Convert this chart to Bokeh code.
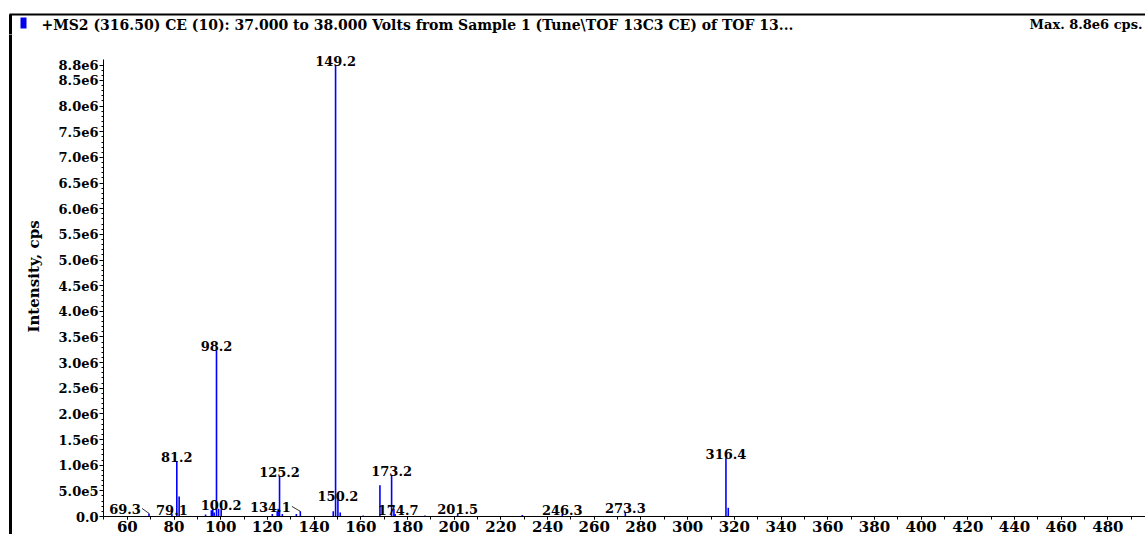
from bokeh.plotting import figure
from bokeh.layouts import column, row
from bokeh.models import FixedTicker, SingleIntervalTicker, ColumnDataSource, Range1d
from bokeh.core.properties import value
from bokeh.embed import file_html
from bokeh.resources import INLINE

# ---------------- data ----------------
title_text = "+MS2 (316.50) CE (10): 37.000 to 38.000 Volts from Sample 1 (Tune\\TOF 13C3 CE) of TOF 13..."
max_text = "Max. 8.8e6 cps."
y_axis_label = "Intensity, cps"

mz = [69.3, 79.1, 81.2, 82.2, 93.5, 96.0, 96.6, 97.2, 98.2, 99.1, 100.2,
      122.1, 124.2, 124.6, 125.2, 126.4, 132.4, 134.1, 148.2, 149.2, 150.2,
      151.2, 161.0, 168.2, 173.2, 174.2, 174.7, 187.5, 201.5, 229.2, 246.3,
      273.3, 316.4, 317.4]
intensity = [0.06e6, 0.05e6, 1.08e6, 0.39e6, 0.04e6, 0.12e6, 0.17e6, 0.08e6,
             3.24e6, 0.15e6, 0.14e6, 0.05e6, 0.10e6, 0.15e6, 0.78e6, 0.05e6,
             0.05e6, 0.10e6, 0.10e6, 8.80e6, 0.33e6, 0.08e6, 0.02e6, 0.61e6,
             0.81e6, 0.15e6, 0.05e6, 0.02e6, 0.06e6, 0.03e6, 0.05e6, 0.09e6,
             1.15e6, 0.17e6]

label_mz = [69.3, 79.1, 81.2, 98.2, 100.2, 125.2, 134.1, 149.2, 150.2,
            173.2, 174.7, 201.5, 246.3, 273.3, 316.4]
label_text = ["69.3", "79.1", "81.2", "98.2", "100.2", "125.2", "134.1", "149.2",
              "150.2", "173.2", "174.7", "201.5", "246.3", "273.3", "316.4"]
label_int = [0.06e6, 0.05e6, 1.08e6, 3.24e6, 0.14e6, 0.78e6, 0.10e6, 8.80e6,
             0.33e6, 0.81e6, 0.05e6, 0.06e6, 0.05e6, 0.09e6, 1.15e6]

y_ticks = [0, 0.5e6, 1.0e6, 1.5e6, 2.0e6, 2.5e6, 3.0e6, 3.5e6, 4.0e6, 4.5e6,
           5.0e6, 5.5e6, 6.0e6, 6.5e6, 7.0e6, 7.5e6, 8.0e6, 8.5e6, 8.8e6]
y_tick_labels = ["0.0", "5.0e5", "1.0e6", "1.5e6", "2.0e6", "2.5e6", "3.0e6",
                 "3.5e6", "4.0e6", "4.5e6", "5.0e6", "5.5e6", "6.0e6", "6.5e6",
                 "7.0e6", "7.5e6", "8.0e6", "8.5e6", "8.8e6"]

# ---------------- styles / layout ----------------
label_dx = [-24, 0, 0, 0, 0, 0, -30, 0, 0, 0, 3, 0, 0, 0, 0]  # px offsets
leader = [True, False, False, False, False, False, True, False, False,
          False, False, False, False, False, False]

TOTAL_W, TOTAL_H = 1145, 534
HDR_H = 34
STRIP_W = 12
W, H = TOTAL_W - STRIP_W, TOTAL_H - HDR_H
B_LEFT, B_RIGHT, B_TOP, B_BOTTOM = 91, 0, 2, 18
X0, X1 = 49.8, 496.1
Y1 = 9.357e6
FONT = "DejaVu Serif"
BLUE = "#0000ff"


def no_align(f):
    if "frame_align" in f.properties():
        f.frame_align = False
    return f


def bare(width, height, xr, yr):
    f = figure(width=width, height=height, output_backend="svg", toolbar_location=None,
               title=None, x_range=xr, y_range=yr, x_axis_type=None, y_axis_type=None,
               min_border=0, min_border_left=0, min_border_right=0,
               min_border_top=0, min_border_bottom=0)
    f.outline_line_color = None
    f.grid.visible = False
    f.background_fill_color = "white"
    f.border_fill_color = "white"
    return no_align(f)


# header (title, marker, frame lines) in pixel coordinates
hdr = bare(TOTAL_W, HDR_H, Range1d(0, TOTAL_W), Range1d(HDR_H, 0))
hdr.segment(x0=[9], y0=[14], x1=[TOTAL_W], y1=[14], line_color="black", line_width=2)
hdr.segment(x0=[10], y0=[14], x1=[10], y1=[HDR_H + 5], line_color="black", line_width=3)
hdr.quad(left=[20], right=[26], top=[17], bottom=[28], fill_color="#0000ee", line_color=None)
hdr.text(x=[41], y=[24], text=[title_text], text_align="left", text_baseline="middle",
         text_font=value(FONT), text_font_style="bold", text_font_size="14px",
         text_color="black")
hdr.text(x=[TOTAL_W - 3], y=[24], text=[max_text], text_align="right", text_baseline="middle",
         text_font=value(FONT), text_font_style="bold", text_font_size="13px",
         text_color="black")

# left frame line
strip = bare(STRIP_W, H, Range1d(0, STRIP_W), Range1d(H, 0))
strip.segment(x0=[10], y0=[-10], x1=[10], y1=[H + 10], line_color="black", line_width=3)

# main spectrum
p = figure(width=W, height=H, output_backend="svg", toolbar_location=None, title=None,
           x_range=Range1d(X0, X1), y_range=Range1d(0, Y1),
           min_border_left=B_LEFT, min_border_right=B_RIGHT,
           min_border_top=B_TOP, min_border_bottom=B_BOTTOM)
no_align(p)
p.outline_line_color = None
p.xgrid.visible = False
p.ygrid.visible = False
p.background_fill_color = "white"
p.border_fill_color = "white"

src = ColumnDataSource(dict(x=mz, y0=[0] * len(mz), y1=intensity))
p.segment(x0="x", y0="y0", x1="x", y1="y1", source=src, line_color=BLUE, line_width=1.6)

lsrc = ColumnDataSource(dict(x=label_mz, y=label_int, t=label_text, dx=label_dx))
p.text(x="x", y="y", text="t", x_offset="dx", y_offset=-4, source=lsrc,
       text_align="center", text_baseline="alphabetic",
       text_font=value(FONT), text_font_style="bold", text_font_size="13px",
       text_color="black")

frame_w = W - B_LEFT - B_RIGHT
frame_h = H - B_TOP - B_BOTTOM
sx = frame_w / (X1 - X0)
sy = frame_h / Y1
lx0, ly0, lx1, ly1 = [], [], [], []
for m, v, dx, t, use in zip(label_mz, label_int, label_dx, label_text, leader):
    if use:
        half = (len(t) - 1) * 4.5 + 2.5
        lx0.append(m + (dx + half + 1) / sx)
        ly0.append(v + 5 / sy)
        lx1.append(m)
        ly1.append(v)
p.segment(x0=lx0, y0=ly0, x1=lx1, y1=ly1, line_color="black", line_width=0.8)

xa = p.xaxis[0]
xa.ticker = SingleIntervalTicker(interval=20, num_minor_ticks=2)
xa.major_label_text_font = FONT
xa.major_label_text_font_style = "bold"
xa.major_label_text_font_size = "15px"
xa.major_label_text_color = "black"
xa.major_tick_in = 0
xa.major_tick_out = 3
xa.minor_tick_in = 0
xa.minor_tick_out = 3
xa.major_label_standoff = 1
xa.axis_line_color = "black"

ya = p.yaxis[0]
minor = [i * 1e5 for i in range(0, 89)]
ya.ticker = FixedTicker(ticks=y_ticks, minor_ticks=minor)
ya.major_label_overrides = {t: s for t, s in zip(y_ticks, y_tick_labels)}
ya.bounds = (0, 8.9e6)
ya.major_label_text_font = FONT
ya.major_label_text_font_style = "bold"
ya.major_label_text_font_size = "13px"
ya.major_label_text_color = "black"
ya.major_tick_in = 0
ya.major_tick_out = 4
ya.minor_tick_in = 0
ya.minor_tick_out = 2
ya.major_label_standoff = 1
ya.axis_label = y_axis_label
ya.axis_label_text_font = FONT
ya.axis_label_text_font_style = "bold"
ya.axis_label_text_font_size = "15px"
ya.axis_label_text_color = "black"
ya.axis_label_standoff = 13
ya.axis_line_color = "black"

layout = column(hdr, row(strip, p, spacing=0), spacing=0)
open("out.html", "w").write(file_html(layout, INLINE))
